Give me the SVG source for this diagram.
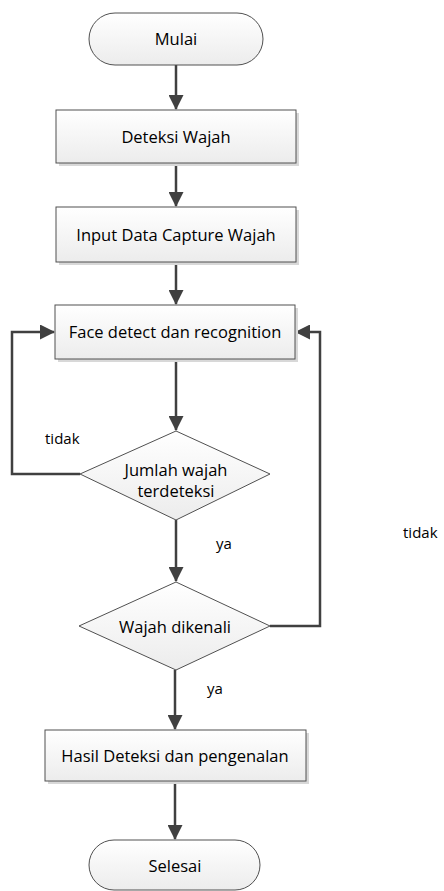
<svg xmlns="http://www.w3.org/2000/svg" width="444" height="891" viewBox="0 0 444 891">
<style>
.t{font-family:"Open Sans","Liberation Sans",sans-serif;font-size:16.5px;fill:#000;text-anchor:middle}
.l{font-family:"Open Sans","Liberation Sans",sans-serif;font-size:15px;fill:#000}
.n{fill:url(#g);stroke:#505050;stroke-width:1}
.sh{fill:#d8d8d8}
.c{fill:none;stroke:#404040;stroke-width:2.5}
</style>
<defs>
<linearGradient id="g" x1="0" y1="0" x2="0" y2="1">
<stop offset="0" stop-color="#ffffff"/>
<stop offset="1" stop-color="#ececec"/>
</linearGradient>
<marker id="a" markerWidth="6" markerHeight="6" refX="5.6" refY="3" orient="auto" markerUnits="strokeWidth">
<path d="M0,0 L6,3 L0,6 z" fill="#404040"/>
</marker>
</defs>
<g id="connectors">
<line class="c" x1="176" y1="65" x2="176" y2="109" marker-end="url(#a)"/>
<line class="c" x1="176" y1="163" x2="176" y2="206" marker-end="url(#a)"/>
<line class="c" x1="176" y1="262" x2="176" y2="304" marker-end="url(#a)"/>
<line class="c" x1="176" y1="359" x2="176" y2="430" marker-end="url(#a)"/>
<polyline class="c" points="80,474 12,474 12,332 54,332" marker-end="url(#a)"/>
<line class="c" x1="176" y1="520" x2="176" y2="581" marker-end="url(#a)"/>
<polyline class="c" points="270,626 320,626 320,332 296,332" marker-end="url(#a)"/>
<line class="c" x1="175" y1="670" x2="175" y2="729" marker-end="url(#a)"/>
<line class="c" x1="175" y1="781" x2="175" y2="839" marker-end="url(#a)"/>
</g>
<g id="mulai">
<rect class="n" x="89" y="13" width="174" height="52" rx="26" ry="26"/>
<text class="t" x="176" y="45">Mulai</text>
</g>
<g id="deteksi">
<rect class="sh" x="59" y="113" width="240" height="53"/>
<rect class="n" x="56" y="110" width="240" height="53"/>
<text class="t" x="176" y="143">Deteksi Wajah</text>
</g>
<g id="input">
<rect class="sh" x="59" y="210" width="240" height="55"/>
<rect class="n" x="56" y="207" width="240" height="55"/>
<text class="t" x="176" y="241">Input Data Capture Wajah</text>
</g>
<g id="face">
<rect class="sh" x="58" y="308" width="240" height="54"/>
<rect class="n" x="55" y="305" width="240" height="54"/>
<text class="t" x="175" y="338">Face detect dan recognition</text>
</g>
<g id="jumlah">
<polygon class="n" points="176,431 270,474 176,520 80,474"/>
<text class="t" x="176" y="476">Jumlah wajah</text>
<text class="t" x="176" y="497">terdeteksi</text>
</g>
<g id="dikenali">
<polygon class="n" points="176,582 270,626 176,670 79,626"/>
<text class="t" x="175" y="633">Wajah dikenali</text>
</g>
<g id="hasil">
<rect class="sh" x="48" y="733" width="261" height="51"/>
<rect class="n" x="45" y="730" width="261" height="51"/>
<text class="t" x="175" y="762">Hasil Deteksi dan pengenalan</text>
</g>
<g id="selesai">
<rect class="n" x="89" y="840" width="171" height="50" rx="25" ry="25"/>
<text class="t" x="175" y="872">Selesai</text>
</g>
<g id="labels">
<text class="l" x="45" y="444">tidak</text>
<text class="l" x="216" y="549">ya</text>
<text class="l" x="207" y="694">ya</text>
<text class="l" x="403" y="538">tidak</text>
</g>
</svg>
